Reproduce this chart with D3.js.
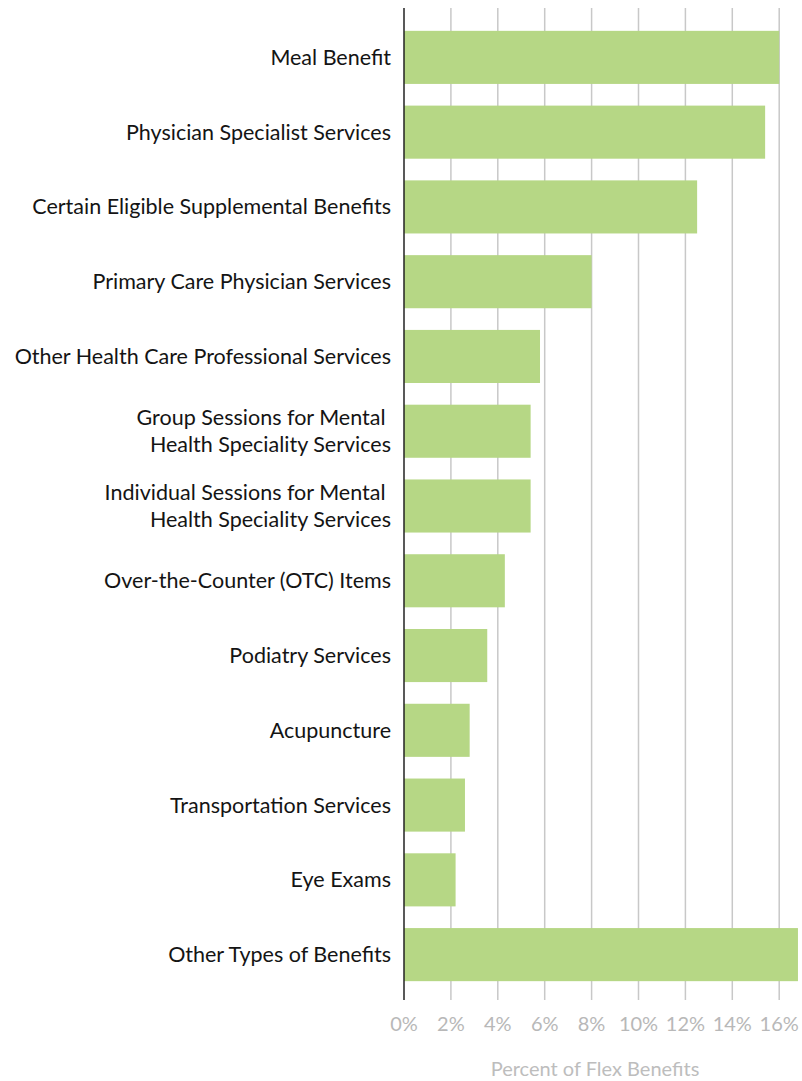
<!DOCTYPE html>
<html>
<head>
<meta charset="utf-8">
<script src="https://cdn.jsdelivr.net/npm/d3@7"></script>
<style>
  body { margin: 0; background: #fff; }
  svg { display: block; font-family: Lato, "Open Sans", sans-serif; }
</style>
</head>
<body>
<div id="chart"></div>
<script>
// categories, top to bottom (multi-line labels split on "|")
var categories = [
    "Meal Benefit",
    "Physician Specialist Services",
    "Certain Eligible Supplemental Benefits",
    "Primary Care Physician Services",
    "Other Health Care Professional Services",
    "Group Sessions for Mental\u00a0|Health Speciality Services",
    "Individual Sessions for Mental\u00a0|Health Speciality Services",
    "Over-the-Counter (OTC) Items",
    "Podiatry Services",
    "Acupuncture",
    "Transportation Services",
    "Eye Exams",
    "Other Types of Benefits"
];
// percent of flex benefits
var values = [16.0, 15.4, 12.5, 8.0, 5.8, 5.4, 5.4, 4.3, 3.55, 2.8, 2.6, 2.2, 16.8];
var ticks = [0, 2, 4, 6, 8, 10, 12, 14, 16];

var width = 802, height = 1081,
    left = 404;

var svg = d3.select("#chart").append("svg")
    .attr("width", width)
    .attr("height", height);

var x = d3.scaleLinear().domain([0, 16]).range([left, 779.2]);

var y = d3.scaleBand()
    .domain(d3.range(categories.length))
    .range([20, 992])
    .paddingInner(0.29)
    .paddingOuter(0.145);

// gridlines
svg.append("g")
    .selectAll("line")
    .data(ticks.slice(1))
    .enter().append("line")
    .attr("x1", function (d) { return x(d); })
    .attr("x2", function (d) { return x(d); })
    .attr("y1", 8)
    .attr("y2", 1000)
    .attr("stroke", "#c8c8c8")
    .attr("stroke-width", 1.5);

// bars
svg.append("g")
    .selectAll("rect")
    .data(values)
    .enter().append("rect")
    .attr("x", x(0))
    .attr("y", function (d, i) { return y(i); })
    .attr("width", function (d) { return x(d) - x(0); })
    .attr("height", y.bandwidth())
    .attr("fill", "#b6d785");

// y axis line
svg.append("line")
    .attr("x1", left).attr("x2", left)
    .attr("y1", 8).attr("y2", 1000)
    .attr("stroke", "#222")
    .attr("stroke-width", 1.5);

// category labels
var labels = svg.append("g")
    .selectAll("text")
    .data(categories)
    .enter().append("text")
    .attr("text-anchor", "end")
    .attr("fill", "#141414")
    .style("font-size", "21.5px")
    .attr("transform", function (d, i) {
        return "translate(391," + (y(i) + y.bandwidth() / 2) + ")";
    });

labels.each(function (d) {
    var lines = d.split("|");
    var t = d3.select(this);
    lines.forEach(function (l, j) {
        t.append("tspan")
            .attr("x", 0)
            .attr("dy", j === 0 ? (0.35 - (lines.length - 1) * 0.62) + "em" : "1.24em")
            .style("white-space", "pre")
            .text(l);
    });
});

// x tick labels
svg.append("g")
    .selectAll("text")
    .data(ticks)
    .enter().append("text")
    .attr("x", function (d) { return x(d); })
    .attr("y", 1031)
    .attr("text-anchor", "middle")
    .attr("fill", "#b8b8b8")
    .style("font-size", "20px")
    .text(function (d) { return d + "%"; });

// axis title
svg.append("text")
    .attr("x", 595)
    .attr("y", 1076)
    .attr("text-anchor", "middle")
    .attr("fill", "#bdbdbd")
    .style("font-size", "20px")
    .text("Percent of Flex Benefits");
</script>
</body>
</html>
